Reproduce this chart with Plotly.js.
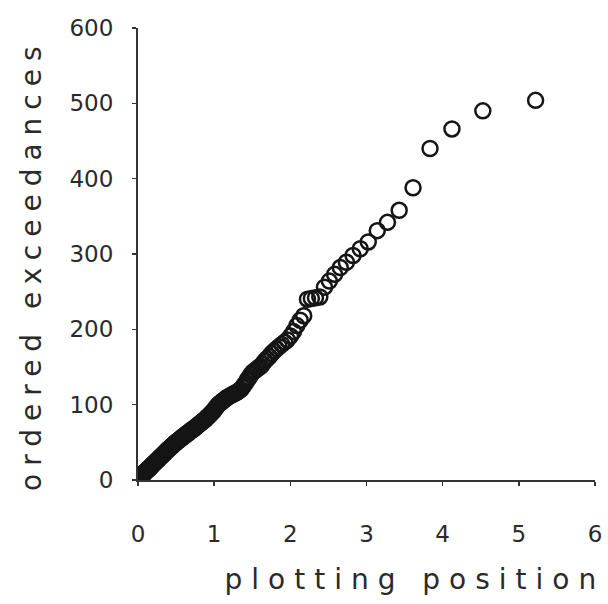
<!DOCTYPE html>
<html>
<head>
<meta charset="utf-8">
<script src="https://cdn.plot.ly/plotly-3.0.1.min.js"></script>
<style>
html, body { margin: 0; padding: 0; background: #fff; }
#chart { width: 608px; height: 604px; }
</style>
</head>
<body>
<div id="chart"></div>
<script>
// Plotting positions (exponential quantiles), ascending
const plottingPosition = [
  0.005, 0.011, 0.016, 0.022, 0.027, 0.033, 0.039, 0.044, 0.050, 0.056,
  0.061, 0.067, 0.073, 0.079, 0.085, 0.091, 0.096, 0.102, 0.108, 0.115,
  0.121, 0.127, 0.133, 0.139, 0.145, 0.152, 0.158, 0.164, 0.171, 0.177,
  0.183, 0.190, 0.197, 0.203, 0.210, 0.217, 0.223, 0.230, 0.237, 0.244,
  0.251, 0.258, 0.265, 0.272, 0.279, 0.286, 0.293, 0.300, 0.308, 0.315,
  0.323, 0.330, 0.338, 0.345, 0.353, 0.361, 0.368, 0.376, 0.384, 0.392,
  0.400, 0.408, 0.416, 0.425, 0.433, 0.441, 0.450, 0.458, 0.467, 0.476,
  0.484, 0.493, 0.502, 0.511, 0.520, 0.529, 0.538, 0.548, 0.557, 0.566,
  0.576, 0.586, 0.595, 0.605, 0.615, 0.625, 0.635, 0.646, 0.656, 0.667,
  0.677, 0.688, 0.699, 0.710, 0.721, 0.732, 0.743, 0.755, 0.766, 0.778,
  0.790, 0.802, 0.814, 0.826, 0.838, 0.851, 0.864, 0.877, 0.890, 0.903,
  0.916, 0.930, 0.944, 0.958, 0.972, 0.986, 1.001, 1.016, 1.031, 1.046,
  1.062, 1.077, 1.093, 1.110, 1.126, 1.143, 1.160, 1.177, 1.195, 1.213,
  1.231, 1.250, 1.269, 1.289, 1.308, 1.329, 1.349, 1.370, 1.392, 1.414,
  1.436, 1.459, 1.483, 1.507, 1.532, 1.557, 1.583, 1.610, 1.637, 1.665,
  1.694, 1.724, 1.755, 1.786, 1.819, 1.853, 1.888, 1.925, 1.962, 2.002,
  2.042, 2.085, 2.129, 2.176, 2.225, 2.276, 2.330, 2.387, 2.448, 2.512,
  2.581, 2.656, 2.736, 2.823, 2.918, 3.023, 3.141, 3.275, 3.429, 3.611,
  3.834, 4.122, 4.527, 5.220
];

// Ordered exceedances, ascending
const orderedExceedances = [
  1, 2, 2, 3, 3, 4, 4, 5, 6, 6,
  7, 8, 8, 9, 10, 10, 11, 11, 12, 13,
  13, 14, 14, 15, 15, 16, 17, 17, 18, 19,
  19, 20, 21, 21, 22, 23, 23, 24, 25, 25,
  26, 27, 27, 28, 29, 30, 30, 31, 32, 32,
  33, 34, 35, 35, 36, 37, 38, 39, 39, 40,
  41, 42, 42, 43, 44, 45, 45, 46, 47, 48,
  49, 49, 50, 51, 52, 52, 53, 54, 55, 55,
  56, 57, 58, 58, 59, 60, 61, 62, 62, 63,
  64, 65, 66, 67, 67, 68, 69, 70, 71, 72,
  73, 74, 75, 76, 77, 78, 79, 80, 81, 83,
  84, 85, 87, 88, 90, 91, 93, 95, 97, 99,
  101, 102, 103, 105, 106, 107, 109, 110, 111, 112,
  113, 114, 115, 116, 117, 119, 120, 123, 126, 129,
  133, 136, 140, 143, 145, 147, 149, 151, 154, 158,
  161, 164, 168, 171, 174, 177, 180, 183, 186, 191,
  197, 205, 212, 218, 240, 241, 242, 243, 256, 264,
  273, 282, 289, 298, 307, 316, 331, 342, 358, 388,
  440, 466, 490, 504
];

const xTickVals = [0, 1, 2, 3, 4, 5, 6];
const yTickVals = [0, 100, 200, 300, 400, 500, 600];
const xTitle = 'plotting position';
const yTitle = 'ordered exceedances';

const ink = '#2a2a2a';
const font = 'DejaVu Sans, sans-serif';

const trace = {
  type: 'scatter',
  mode: 'markers',
  x: plottingPosition,
  y: orderedExceedances,
  marker: {
    symbol: 'circle-open',
    size: 15,
    color: '#151515',
    line: { width: 2.5, color: '#151515' }
  },
  hoverinfo: 'x+y',
  showlegend: false
};

const layout = {
  width: 608,
  height: 604,
  margin: { l: 138, r: 13, t: 28, b: 124 },
  paper_bgcolor: '#fff',
  plot_bgcolor: '#fff',
  showlegend: false,
  xaxis: {
    range: [0, 6],
    tickvals: xTickVals,
    ticktext: xTickVals.map(String),
    showgrid: false,
    zeroline: false,
    showline: true,
    linecolor: '#333',
    linewidth: 2,
    ticks: 'outside',
    ticklen: 4,
    tickwidth: 1.5,
    tickcolor: '#333',
    ticklabelstandoff: 28,
    tickfont: { family: font, size: 23, color: ink }
  },
  yaxis: {
    range: [0, 600],
    tickvals: yTickVals,
    ticktext: yTickVals.map(String),
    showgrid: false,
    zeroline: false,
    showline: true,
    linecolor: '#333',
    linewidth: 2,
    ticks: 'outside',
    ticklen: 4,
    tickwidth: 1.5,
    tickcolor: '#333',
    ticklabelstandoff: 14,
    tickfont: { family: font, size: 23, color: ink }
  },
  annotations: [
    {
      text: xTitle,
      xref: 'paper', yref: 'paper',
      x: 0.607, y: -0.221,
      xanchor: 'center', yanchor: 'middle',
      showarrow: false,
      font: { family: font, size: 28, color: ink }
    },
    {
      text: yTitle,
      xref: 'paper', yref: 'paper',
      x: -0.233, y: 0.477,
      xanchor: 'center', yanchor: 'middle',
      textangle: -90,
      showarrow: false,
      font: { family: font, size: 28, color: ink }
    }
  ]
};

Plotly.newPlot('chart', [trace], layout, { displayModeBar: false, staticPlot: true }).then(function (gd) {
  const spacing = ['9px', '8px'];
  gd.querySelectorAll('.annotation').forEach(function (g) {
    const i = +g.getAttribute('data-index');
    const t = g.querySelector('text');
    if (t) t.style.letterSpacing = spacing[i];
  });
});
</script>
</body>
</html>
